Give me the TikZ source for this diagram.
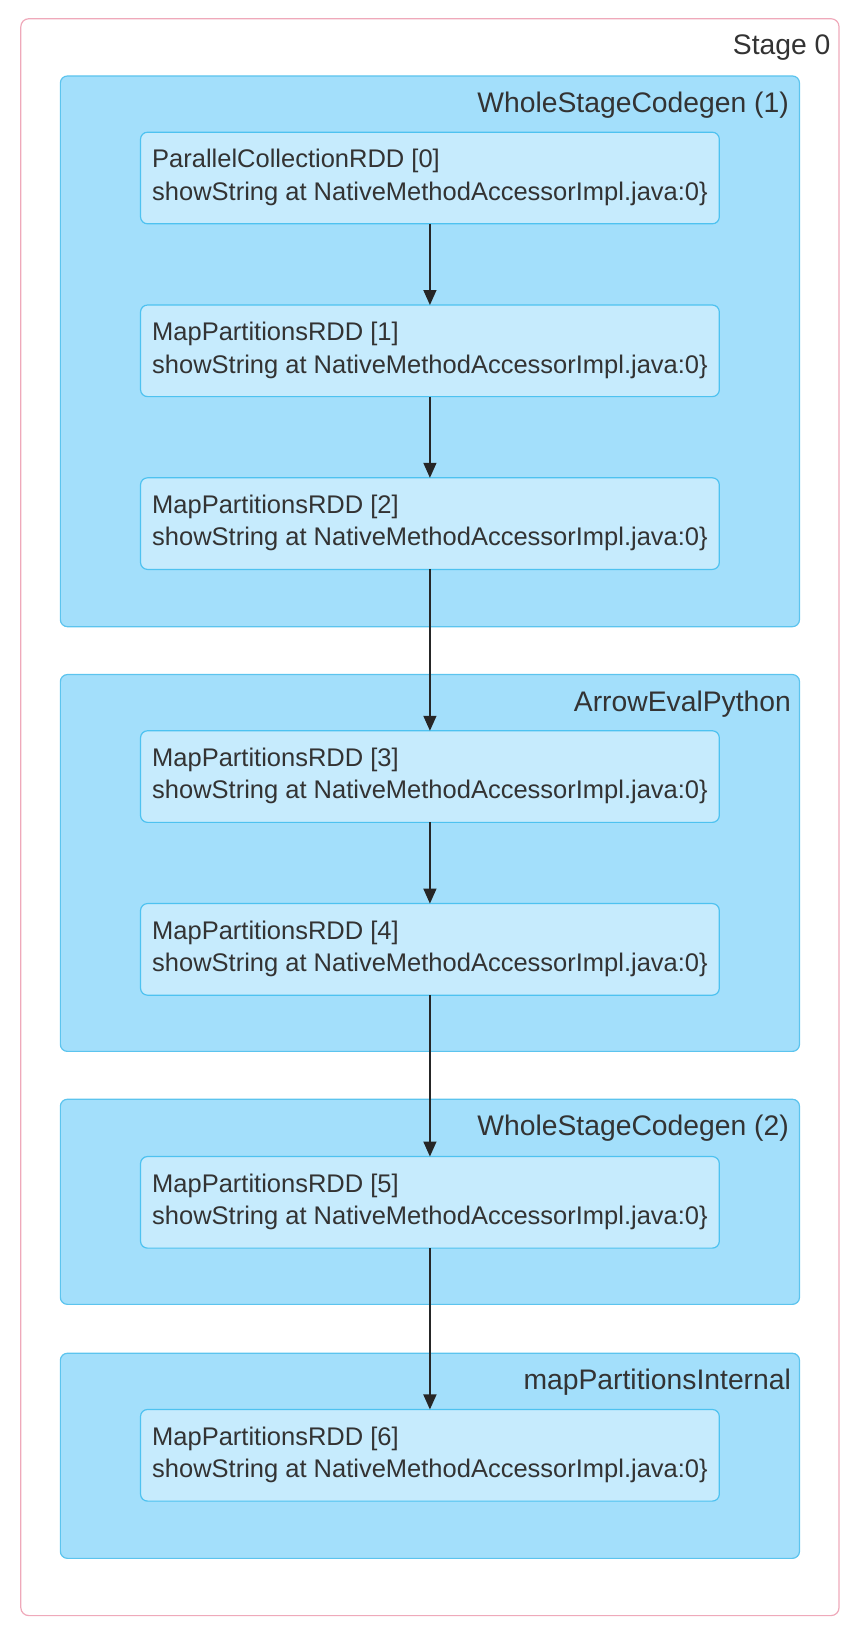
\documentclass[tikz,border=0pt]{standalone}
\usepackage{fontspec}
\setmainfont{Liberation Sans}
\usetikzlibrary{arrows.meta}
\definecolor{clfill}{HTML}{A3DFFB}
\definecolor{cldraw}{HTML}{5CC4EE}
\definecolor{ndfill}{HTML}{C6EBFD}
\definecolor{nddraw}{HTML}{4EC2F0}
\definecolor{stdraw}{HTML}{EFA9BA}
\definecolor{txt}{HTML}{333333}
\begin{document}
\begin{tikzpicture}[x=1.041pt,y=-1.041pt,
  cl/.style={fill=clfill,draw=cldraw,line width=1.2pt,rounded corners=7pt},
  rdd/.style={fill=ndfill,draw=nddraw,line width=1.2pt,rounded corners=7pt},
  cltxt/.style={anchor=east,text=txt,font=\fontsize{28.3}{31}\selectfont,inner sep=0pt},
  ndtxt/.style={anchor=west,text=txt,font=\fontsize{25.5}{28}\selectfont,inner sep=0pt},
  arr/.style={draw=black!85,line width=1.5pt,-{Triangle[length=15pt,width=13pt]}}]
\useasboundingbox (0,0) rectangle (818.4,1562);
\draw[draw=stdraw,line width=1.2pt,rounded corners=8pt] (20,18) rectangle (806,1552);
\node[cltxt] (s0) at (798,46) {Stage 0};
\draw[cl] (58,73) rectangle (768,602);
\node[cltxt] (c1) at (758,101) {WholeStageCodegen (1)};
\draw[cl] (58,648) rectangle (768,1010);
\node[cltxt] (c2) at (760,676) {ArrowEvalPython};
\draw[cl] (58,1056) rectangle (768,1253);
\node[cltxt] (c3) at (758,1084) {WholeStageCodegen (2)};
\draw[cl] (58,1300) rectangle (768,1497);
\node[cltxt] (c4) at (760,1328) {mapPartitionsInternal};
\foreach \n/\y/\t in {0/127/ParallelCollectionRDD [0],1/293/MapPartitionsRDD [1],2/459/MapPartitionsRDD [2],3/702/MapPartitionsRDD [3],4/868/MapPartitionsRDD [4],5/1111/MapPartitionsRDD [5],6/1354/MapPartitionsRDD [6]}{
  \draw[rdd] (135,\y) rectangle (691,\y+88);
  \coordinate (t\n) at (413,\y);
  \coordinate (b\n) at (413,\y+88);
  \node[ndtxt] (l\n a) at (146,\y+28) {\t};
  \node[ndtxt] (l\n b) at (146,\y+59) {showString at NativeMethodAccessorImpl.java:0\}};
}
\draw[arr] (b0) -- (t1);
\draw[arr] (b1) -- (t2);
\draw[arr] (b2) -- (t3);
\draw[arr] (b3) -- (t4);
\draw[arr] (b4) -- (t5);
\draw[arr] (b5) -- (t6);
\end{tikzpicture}
\end{document}
